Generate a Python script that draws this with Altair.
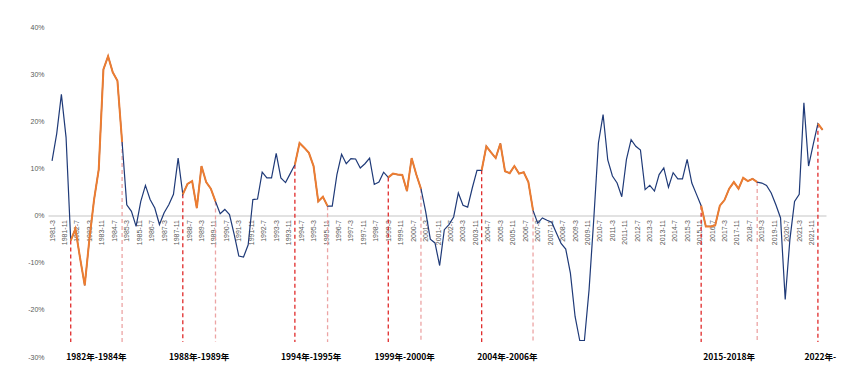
import altair as alt
import pandas as pd

# Quarterly series (percent), first point 1981-3, one point every 3 months
VALUES = [
    11.6, 17.4, 25.7, 16.6, -5.3, -2.8, -9.0, -14.8, -5.0, 3.4,
    9.8, 31.0, 33.8, 30.4, 28.6, 15.6, 2.3, 0.9, -2.3, 3.0,
    6.4, 3.4, 1.6, -1.9, 0.6, 2.3, 4.5, 12.2, 4.5, 6.7,
    7.3, 1.6, 10.5, 7.1, 5.7, 3.0, 0.4, 1.3, 0.2, -4.0,
    -8.6, -8.8, -6.2, 3.4, 3.5, 9.2, 8.0, 8.0, 13.2, 8.0,
    7.0, 8.9, 10.8, 15.4, 14.4, 13.3, 10.5, 3.0, 4.0, 2.0,
    2.0, 8.7, 13.0, 11.0, 12.1, 12.0, 10.1, 11.0, 12.2, 6.6,
    7.1, 9.2, 8.1, 8.9, 8.7, 8.6, 5.2, 12.2, 8.7, 5.7,
    0.9, -5.0, -5.8, -10.6, -3.0, -1.9, -0.3, 4.8, 2.2, 1.8,
    5.9, 9.6, 9.6, 14.7, 13.4, 12.2, 15.3, 9.4, 9.0, 10.5,
    8.9, 9.2, 7.1, 1.1, -1.6, -0.5, -1.0, -1.4, -3.7, -5.9,
    -7.1, -12.2, -21.4, -26.5, -26.5, -15.7, -0.8, 15.4, 21.4, 11.8,
    8.4, 6.9, 4.0, 11.9, 16.1, 14.7, 13.9, 5.5, 6.4, 5.2,
    8.7, 10.1, 6.0, 9.1, 7.8, 7.8, 11.9, 6.9, 4.5, 2.1,
    -2.3, -2.3, -2.1, 2.1, 3.3, 5.7, 7.1, 5.7, 8.0, 7.3,
    7.8, 7.1, 6.9, 6.4, 4.8, 2.3, -0.5, -17.8, -5.1, 3.0,
    4.5, 23.9, 10.5, 15.1, 19.5, 18.2,
]
START_YEAR = 1981
START_MONTH = 3
STEP_MONTHS = 3

TICK_LABELS = [
    "1981-3", "1981-11", "1982-7", "1983-3", "1983-11", "1984-7", "1985-3", "1985-11",
    "1986-7", "1987-3", "1987-11", "1988-7", "1989-3", "1989-11", "1990-7", "1991-3",
    "1991-11", "1992-7", "1993-3", "1993-11", "1994-7", "1995-3", "1995-11", "1996-7",
    "1997-3", "1997-11", "1998-7", "1999-3", "1999-11", "2000-7", "2001-3", "2001-11",
    "2002-7", "2003-3", "2003-11", "2004-7", "2005-3", "2005-11", "2006-7", "2007-3",
    "2007-11", "2008-7", "2009-3", "2009-11", "2010-7", "2011-3", "2011-11", "2012-7",
    "2013-3", "2013-11", "2014-7", "2015-3", "2015-11", "2016-7", "2017-3", "2017-11",
    "2018-7", "2019-3", "2019-11", "2020-7", "2021-3", "2021-11",
]
Y_TICKS = [-30, -20, -10, 0, 10, 20, 30, 40]

PERIOD_NAMES = ["1982年-1984年", "1988年-1989年", "1994年-1995年", "1999年-2000年",
                "2004年-2006年", "2015-2018年", "2022年-"]
PERIOD_START = [4, 28, 52, 72, 92, 139, 164]   # index into VALUES
PERIOD_END = [15, 35, 59, 79, 103, 151, 165]


def month_index(year, month):
    return (year - START_YEAR) * 12 + (month - 1)


def label_t(lbl):
    y, m = lbl.split("-")
    return month_index(int(y), int(m))


point_t = [month_index(START_YEAR, START_MONTH) + STEP_MONTHS * i for i in range(len(VALUES))]
tick_t = [label_t(l) for l in TICK_LABELS]

df_main = pd.DataFrame({"t": point_t, "value": VALUES})

orange_rows = []
for k, (s, e) in enumerate(zip(PERIOD_START, PERIOD_END)):
    for i in range(s, e + 1):
        orange_rows.append({"t": point_t[i], "value": VALUES[i], "seg": k})
df_orange = pd.DataFrame(orange_rows)

RULE_BOTTOM = -26.8
rule_rows = []
for s, e in zip(PERIOD_START, PERIOD_END):
    rule_rows.append({"t": point_t[s], "top": VALUES[s], "bottom": RULE_BOTTOM, "kind": "start"})
    if e < len(VALUES) - 1:
        rule_rows.append({"t": point_t[e], "top": VALUES[e], "bottom": RULE_BOTTOM, "kind": "end"})
df_rules = pd.DataFrame(rule_rows)

LABEL_Y = -30
df_text = pd.DataFrame({
    "t": [(point_t[s] + point_t[e]) / 2 for s, e in zip(PERIOD_START, PERIOD_END)],
    "value": [LABEL_Y] * len(PERIOD_NAMES),
    "name": PERIOD_NAMES,
})

W, H = 778, 330
x_enc = alt.X(
    "t:Q",
    scale=alt.Scale(domain=[-0.6, 499.2], nice=False, zero=False),
    axis=alt.Axis(
        values=tick_t,
        labelExpr="(floor(datum.value / 12) + 1981) + '-' + (datum.value % 12 + 1)",
        labelAngle=270, labelFontSize=7, labelColor="#595959", labelFont="Liberation Sans",
        grid=False, ticks=False, domain=True, domainColor="#d9d9d9", domainWidth=1.5,
        offset=-H * 30 / 70, labelPadding=4, labelOverlap=False, labelFlush=False,
        title=None,
    ),
)
y_scale = alt.Scale(domain=[-30, 40], nice=False, zero=False)
y_axis = alt.Axis(
    values=Y_TICKS, labelExpr="datum.value + '%'", grid=False, domain=False, ticks=False,
    labelFontSize=7, labelColor="#595959", labelFont="Liberation Sans", labelPadding=4, title=None,
)

rules = alt.Chart(df_rules).mark_rule(strokeDash=[4, 3], strokeWidth=1.3).encode(
    x=x_enc,
    y=alt.Y("top:Q", scale=y_scale, axis=y_axis),
    y2="bottom:Q",
    color=alt.Color("kind:N", scale=alt.Scale(domain=["start", "end"], range=["#e02b2b", "#eca4a4"]), legend=None),
)

blue = alt.Chart(df_main).mark_line(color="#1f3a78", strokeWidth=1.2).encode(
    x=x_enc,
    y=alt.Y("value:Q", scale=y_scale, axis=y_axis),
)

orange = alt.Chart(df_orange).mark_line(color="#ED7D31", strokeWidth=2).encode(
    x=x_enc,
    y=alt.Y("value:Q", scale=y_scale, axis=y_axis),
    detail="seg:N",
)

texts = alt.Chart(df_text).mark_text(
    font="Noto Sans CJK SC", fontWeight="bold", fontSize=8.5, color="#000000",
    align="center", baseline="middle",
).encode(
    x=x_enc,
    y=alt.Y("value:Q", scale=y_scale, axis=y_axis),
    text="name:N",
)

chart = alt.layer(rules, blue, orange, texts).properties(
    width=W, height=H,
    autosize=alt.AutoSizeParams(type="none"),
    padding={"left": 40, "top": 19, "right": 32, "bottom": 14},
).configure_view(stroke=None)

chart.save("out.html", embed_options={"renderer": "svg", "actions": False})
